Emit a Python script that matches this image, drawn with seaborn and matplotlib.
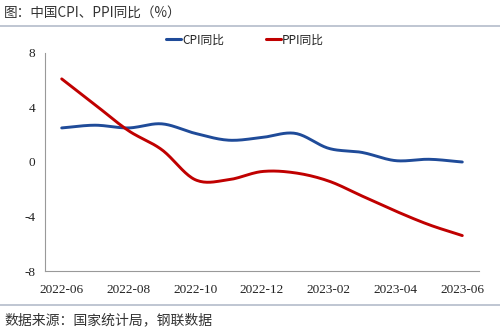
import numpy as np
import pandas as pd
import matplotlib
matplotlib.use("Agg")
import matplotlib.pyplot as plt
import seaborn as sns
from matplotlib.lines import Line2D

months = ["2022-06", "2022-07", "2022-08", "2022-09", "2022-10", "2022-11", "2022-12",
          "2023-01", "2023-02", "2023-03", "2023-04", "2023-05", "2023-06"]
cpi = [2.5, 2.7, 2.5, 2.8, 2.1, 1.6, 1.8, 2.1, 1.0, 0.7, 0.1, 0.2, 0.0]
ppi = [6.1, 4.2, 2.3, 0.9, -1.3, -1.3, -0.7, -0.8, -1.4, -2.5, -3.6, -4.6, -5.4]
yticks = [-8, -4, 0, 4, 8]

sns.set_theme(style="white")
plt.rcParams["font.family"] = ["Noto Sans CJK SC", "DejaVu Sans"]

CPI_COLOR = "#1F4B99"
PPI_COLOR = "#C00000"
RULE_COLOR = "#B4BCCB"


def smooth(xs, ys, n=20):
    """Catmull-Rom curve through the points, for a smoothed line look."""
    xs = np.asarray(xs, float)
    ys = np.asarray(ys, float)
    px = np.concatenate([[2 * xs[0] - xs[1]], xs, [2 * xs[-1] - xs[-2]]])
    py = np.concatenate([[2 * ys[0] - ys[1]], ys, [2 * ys[-1] - ys[-2]]])
    out_x, out_y = [], []
    t = np.linspace(0, 1, n, endpoint=False)
    for i in range(1, len(px) - 2):
        for arr, out in ((px, out_x), (py, out_y)):
            p0, p1, p2, p3 = arr[i - 1], arr[i], arr[i + 1], arr[i + 2]
            out.extend(0.5 * ((2 * p1) + (-p0 + p2) * t
                              + (2 * p0 - 5 * p1 + 4 * p2 - p3) * t ** 2
                              + (-p0 + 3 * p1 - 3 * p2 + p3) * t ** 3))
    out_x.append(xs[-1])
    out_y.append(ys[-1])
    return np.array(out_x), np.array(out_y)


fig = plt.figure(figsize=(5.0, 3.32), dpi=100)
ax = fig.add_axes([0.09, 0.1837, 0.868, 0.6567])

idx = np.arange(len(months))
for vals, color in ((cpi, CPI_COLOR), (ppi, PPI_COLOR)):
    sx, sy = smooth(idx, vals)
    df = pd.DataFrame({"x": sx, "y": sy})
    sns.lineplot(data=df, x="x", y="y", ax=ax, color=color, linewidth=2.1,
                 sort=False, estimator=None)

ax.set_xlim(-0.5, len(months) - 0.5)
ax.set_ylim(-8, 8)
ax.set_yticks(yticks)
ax.set_yticklabels([str(v) for v in yticks], family="Liberation Serif", fontsize=9.5)

# Category labels every two months, tick marks on the category boundaries
ax.set_xticks(idx[::2])
ax.set_xticklabels(months[::2], family="Liberation Serif", fontsize=9.5)
ax.set_xticks(np.arange(-0.5, len(months), 2)[1:], minor=True)
ax.tick_params(axis="x", which="major", length=0, pad=9, colors="#222222")
ax.tick_params(axis="x", which="minor", direction="in", length=4, color="#999999", width=0.8)
ax.tick_params(axis="y", direction="out", length=4, color="#999999", width=0.8,
               pad=3, colors="#222222")
ax.tick_params(axis="y", color="#999999")
ax.set_xlabel("")
ax.set_ylabel("")

for side in ("top", "right"):
    ax.spines[side].set_visible(False)
for side in ("left", "bottom"):
    ax.spines[side].set_color("#999999")
    ax.spines[side].set_linewidth(0.8)

handles = [Line2D([], [], color=CPI_COLOR, lw=2.2), Line2D([], [], color=PPI_COLOR, lw=2.2)]
fig.legend(handles, ["CPI同比", "PPI同比"], loc="center", bbox_to_anchor=(0.49, 0.88),
           ncol=2, frameon=False, fontsize=8.5, handlelength=1.3, handletextpad=0.1,
           columnspacing=3.5, labelcolor="#222222")

fig.text(0.008, 0.962, "图：中国CPI、PPI同比（%）", fontsize=9.8, color="#333333",
         va="center", ha="left")
fig.add_artist(Line2D([0, 1], [0.921, 0.921], transform=fig.transFigure,
                      color=RULE_COLOR, lw=1.2))
fig.add_artist(Line2D([0, 1], [0.081, 0.081], transform=fig.transFigure,
                      color=RULE_COLOR, lw=1.2))
fig.text(0.008, 0.036, "数据来源：国家统计局，钢联数据", fontsize=10, color="#333333",
         va="center", ha="left")

fig.savefig("out.png", dpi=100)
